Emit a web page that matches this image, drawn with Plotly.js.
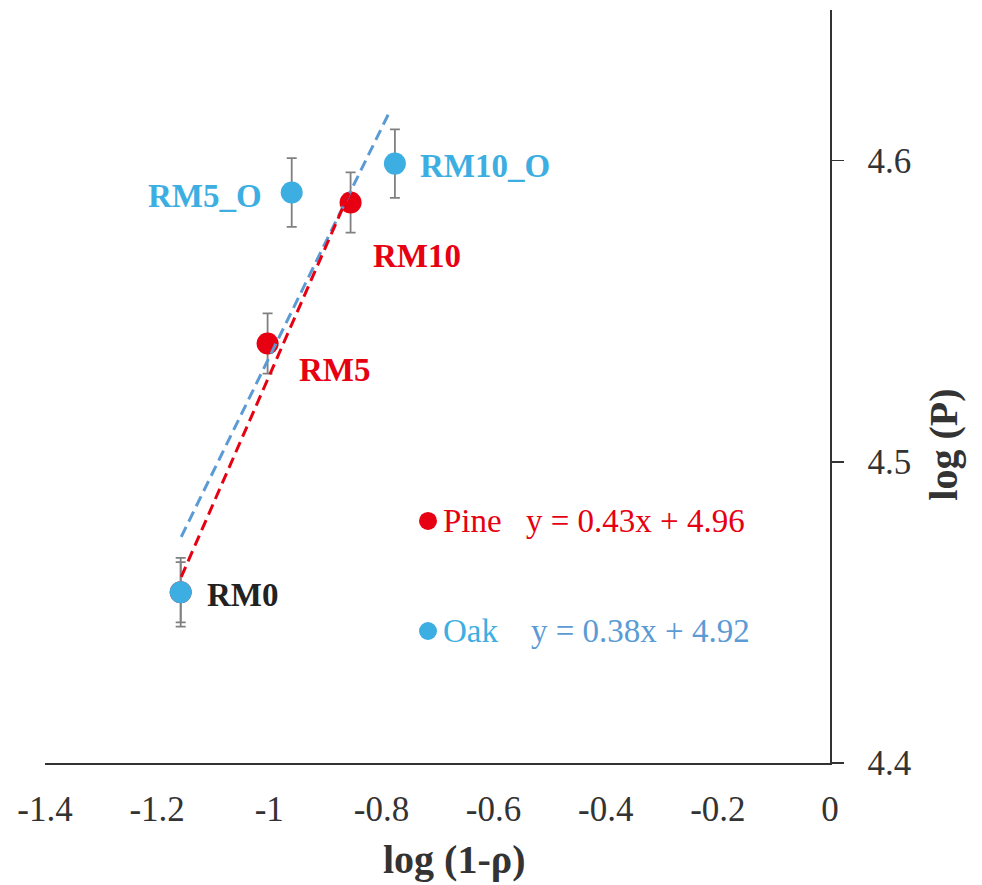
<!DOCTYPE html>
<html>
<head>
<meta charset="utf-8">
<script src="https://cdn.plot.ly/plotly-3.0.1.min.js"></script>
<style>html,body{margin:0;padding:0;background:#fff;}#chart{width:982px;height:885px;}</style>
</head>
<body>
<div id="chart"></div>
<script>
// ---- data ----
const pineNames = ['RM0', 'RM5', 'RM10'];
const pineX = [-1.158, -1.003, -0.855];
const pineY = [4.4567, 4.5393, 4.5861];
const pineErr = [0.0100, 0.0100, 0.0100];

const oakNames = ['RM0', 'RM5_O', 'RM10_O'];
const oakX = [-1.158, -0.960, -0.776];
const oakY = [4.4567, 4.5894, 4.5990];
const oakErr = [0.0114, 0.0114, 0.0114];

// fitted trend-line end points
const pineFitX = [-1.157, -0.853];
const pineFitY = [4.4618, 4.5911];
const oakFitX = [-1.157, -0.786];
const oakFitY = [4.4751, 4.6160];

const pineEq = 'y = 0.43x + 4.96';
const oakEq = 'y = 0.38x + 4.92';

const xTickVals = [-1.4, -1.2, -1.0, -0.8, -0.6, -0.4, -0.2, 0];
const xTickText = ['-1.4', '-1.2', '-1', '-0.8', '-0.6', '-0.4', '-0.2', '0'];
const yTickVals = [4.4, 4.5, 4.6];
const yTickText = ['4.4', '4.5', '4.6'];

const xTitle = 'log (1-ρ)';
const yTitle = 'log (P)';

// ---- styles ----
const RED = '#E60012';
const BLUE = '#3DAEE2';
const LBLUE = '#5B9BD5';
const FONT = 'Liberation Serif, Times New Roman, serif';

const traces = [
  {
    x: pineX, y: pineY, mode: 'markers', type: 'scatter', name: 'Pine',
    marker: {color: RED, size: 22},
    error_y: {type: 'data', array: pineErr, visible: true, color: '#808080', thickness: 1.8, width: 5}
  },
  {
    x: oakX, y: oakY, mode: 'markers', type: 'scatter', name: 'Oak',
    marker: {color: BLUE, size: 22},
    error_y: {type: 'data', array: oakErr, visible: true, color: '#808080', thickness: 1.8, width: 5}
  },
  {
    x: oakFitX, y: oakFitY, mode: 'lines', type: 'scatter',
    line: {color: LBLUE, width: 3, dash: '11px,6px'}
  },
  {
    x: pineFitX, y: pineFitY, mode: 'lines', type: 'scatter',
    line: {color: RED, width: 3, dash: '11px,6px'}
  }
];

const labelFont = (c) => ({family: FONT, size: 33, color: c});
const legFont = (c) => ({family: FONT, size: 33, color: c});
const annotations = [
  {x: oakX[0], y: oakY[0], text: '<b>' + oakNames[0] + '</b>', xanchor: 'left', yanchor: 'middle', xshift: 24, yshift: -3, font: labelFont('#222'), showarrow: false},
  {x: pineX[1], y: pineY[1], text: '<b>' + pineNames[1] + '</b>', xanchor: 'left', yanchor: 'middle', xshift: 29, yshift: -27, font: labelFont(RED), showarrow: false},
  {x: pineX[2], y: pineY[2], text: '<b>' + pineNames[2] + '</b>', xanchor: 'left', yanchor: 'middle', xshift: 20, yshift: -54, font: labelFont(RED), showarrow: false},
  {x: oakX[1], y: oakY[1], text: '<b>' + oakNames[1] + '</b>', xanchor: 'right', yanchor: 'middle', xshift: -28, yshift: -3, font: labelFont(BLUE), showarrow: false},
  {x: oakX[2], y: oakY[2], text: '<b>' + oakNames[2] + '</b>', xanchor: 'left', yanchor: 'middle', xshift: 23, yshift: -2, font: labelFont(BLUE), showarrow: false},
  // legend texts
  {xref: 'paper', yref: 'paper', x: 0.505, y: 0.3214, text: 'Pine', xanchor: 'left', yanchor: 'middle', font: legFont(RED), showarrow: false},
  {xref: 'paper', yref: 'paper', x: 0.610, y: 0.3214, text: pineEq, xanchor: 'left', yanchor: 'middle', font: legFont(RED), showarrow: false},
  {xref: 'paper', yref: 'paper', x: 0.505, y: 0.1753, text: 'Oak', xanchor: 'left', yanchor: 'middle', font: legFont(BLUE), showarrow: false},
  {xref: 'paper', yref: 'paper', x: 0.616, y: 0.1753, text: oakEq, xanchor: 'left', yanchor: 'middle', font: legFont(LBLUE), showarrow: false},
  // axis titles
  {xref: 'paper', yref: 'paper', x: 0.5205, y: -0.1275, text: '<b>' + xTitle + '</b>', xanchor: 'center', yanchor: 'middle', font: {family: FONT, size: 40, color: '#333'}, showarrow: false},
  {xref: 'paper', yref: 'paper', x: 1.1435, y: 0.4223, text: '<b>' + yTitle + '</b>', textangle: -90, xanchor: 'center', yanchor: 'middle', font: {family: FONT, size: 40, color: '#333'}, showarrow: false}
];

const shapes = [
  {type: 'circle', xref: 'paper', yref: 'paper', xsizemode: 'pixel', ysizemode: 'pixel',
   xanchor: 0.4879, yanchor: 0.3214, x0: -9, x1: 9, y0: -9, y1: 9, fillcolor: RED, line: {width: 0}},
  {type: 'circle', xref: 'paper', yref: 'paper', xsizemode: 'pixel', ysizemode: 'pixel',
   xanchor: 0.4879, yanchor: 0.1753, x0: -9, x1: 9, y0: -9, y1: 9, fillcolor: BLUE, line: {width: 0}}
];

const layout = {
  width: 982, height: 885,
  margin: {l: 45, r: 152, t: 10, b: 122},
  paper_bgcolor: '#fff', plot_bgcolor: '#fff',
  showlegend: false,
  font: {family: FONT, color: '#333'},
  xaxis: {
    range: [-1.4, 0], tickvals: xTickVals, ticktext: xTickText,
    showline: true, linecolor: '#333', linewidth: 1.5, ticks: '',
    showgrid: false, zeroline: false,
    tickfont: {family: FONT, size: 35, color: '#333'},
    ticklabelstandoff: 14
  },
  yaxis: {
    side: 'right', range: [4.4, 4.65], tickvals: yTickVals, ticktext: yTickText,
    showline: true, linecolor: '#333', linewidth: 1.5, ticks: 'outside', ticklen: 12, tickwidth: 1.5, tickcolor: '#333',
    showgrid: false, zeroline: false,
    tickfont: {family: FONT, size: 35, color: '#333'},
    ticklabelstandoff: 17
  },
  annotations: annotations,
  shapes: shapes
};

Plotly.newPlot('chart', traces, layout, {displayModeBar: false, staticPlot: true});
</script>
</body>
</html>
